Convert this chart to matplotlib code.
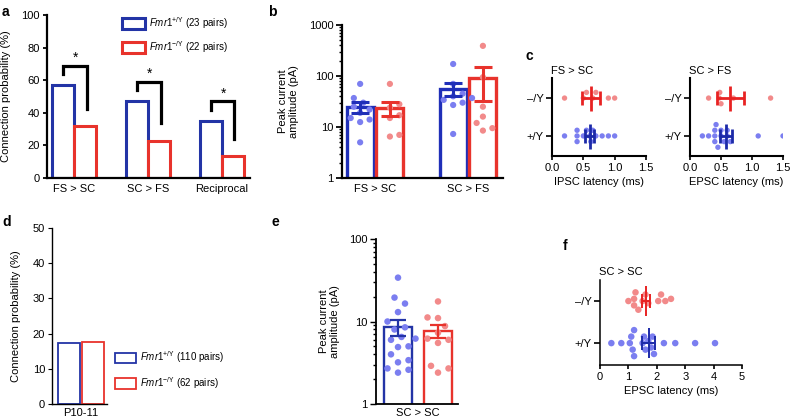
import numpy as np
import matplotlib
matplotlib.use('Agg')
import matplotlib.pyplot as plt
from matplotlib.patches import Patch
from matplotlib.ticker import LogLocator, NullFormatter

plt.rcParams['font.family'] = ['Liberation Sans', 'DejaVu Sans']
plt.rcParams['mathtext.fontset'] = 'custom'
plt.rcParams['mathtext.rm'] = 'Liberation Sans'
plt.rcParams['mathtext.it'] = 'Liberation Sans:italic'
plt.rcParams['mathtext.bf'] = 'Liberation Sans:bold'
plt.rcParams['font.size'] = 8

# ---------------- data ----------------
a_categories = ['FS > SC', 'SC > FS', 'Reciprocal']
a_wt = [57, 47, 35]
a_ko = [32, 23, 13.5]
a_labels = [r'$\mathit{Fmr1}^{+/\mathrm{Y}}$ (23 pairs)', r'$\mathit{Fmr1}^{-/\mathrm{Y}}$ (22 pairs)']

b_categories = ['FS > SC', 'SC > FS']
b_wt_mean = [25, 56]
b_wt_sem = [6, 16]
b_ko_mean = [24, 91]
b_ko_sem = [7.5, 58]
b_wt_pts = [[70, 37, 30, 25, 22, 19, 15, 14, 12.5, 5],
            [172, 70, 45, 40, 37, 34, 30, 27, 7.3]]
b_ko_pts = [[70, 28, 24, 17, 15, 7, 6.5],
            [390, 95, 25, 16, 12, 9.5, 8.5]]

c_genotypes = ['+/Y', '\u2013/Y']
c_fs_sc_wt = [0.2, 0.4, 0.4, 0.4, 0.5, 0.55, 0.6, 0.62, 0.65, 0.7, 0.8, 0.9, 1.0]
c_fs_sc_ko = [0.2, 0.5, 0.55, 0.65, 0.7, 0.9, 1.0]
c_fs_sc_mean = [0.6, 0.62]
c_fs_sc_sem = [0.07, 0.14]
c_sc_fs_wt = [0.2, 0.3, 0.4, 0.4, 0.4, 0.42, 0.45, 0.5, 0.5, 0.55, 0.6, 0.6, 0.65, 1.1, 1.5]
c_sc_fs_ko = [0.3, 0.47, 0.48, 0.5, 0.7, 1.3]
c_sc_fs_mean = [0.58, 0.65]
c_sc_fs_sem = [0.09, 0.22]

d_category = ['P10-11']
d_wt = [17.3]
d_ko = [17.7]
d_labels = [r'$\mathit{Fmr1}^{+/\mathrm{Y}}$ (110 pairs)', r'$\mathit{Fmr1}^{-/\mathrm{Y}}$ (62 pairs)']

e_category = ['SC > SC']
e_wt_mean, e_wt_sem = 8.6, 1.9
e_ko_mean, e_ko_sem = 7.7, 1.4
e_wt_pts = [34, 19.5, 16.5, 13, 10, 8.5, 8, 6.5, 6.2, 6, 5, 4.9, 4, 3.4, 3.2, 2.7, 2.6, 2.4]
e_ko_pts = [17.5, 11, 11.2, 8.8, 7.3, 6.2, 6, 5.5, 2.9, 2.7, 2.4]

f_wt = [0.4, 0.75, 1.05, 1.1, 1.15, 1.2, 1.2, 1.5, 1.55, 1.6, 1.7, 1.8, 1.85, 1.9, 2.25, 2.65, 3.35, 4.05]
f_ko = [1.0, 1.2, 1.2, 1.25, 1.35, 1.5, 1.6, 1.7, 2.05, 2.15, 2.3, 2.5]
f_mean = [1.72, 1.62]
f_sem = [0.23, 0.15]

# ---------------- style ----------------
BLUE = '#2334a6'
RED = '#e8332c'
LBLUE = '#7b7ef0'
LRED = '#f28a8a'
EBLUE = '#1c2aa8'
EBLUE2 = '#1f2fb8'
ERED = '#e82222'

W, H = 792, 420
fig = plt.figure(figsize=(W / 100, H / 100), dpi=100)


def ax_px(l, t, r, b):
    return fig.add_axes([l / W, 1 - b / H, (r - l) / W, (b - t) / H])


def clean(ax, lw=1.4):
    for s in ['top', 'right']:
        ax.spines[s].set_visible(False)
    for s in ['left', 'bottom']:
        ax.spines[s].set_linewidth(lw)
    ax.tick_params(width=lw * 0.8, length=3, labelsize=8, pad=2)


def swarm(ax, center, values, diam, orient='v'):
    """Return data coordinates of swarm-placed points (offset axis in pixels)."""
    T = ax.transData
    if orient == 'v':
        pix = [T.transform((center, v)) for v in values]
        vals = [p[1] for p in pix]
        c0 = pix[0][0]
    else:
        pix = [T.transform((v, center)) for v in values]
        vals = [p[0] for p in pix]
        c0 = pix[0][1]
    order = np.argsort(vals)
    placed = []
    offs = np.zeros(len(values))
    cands = [0.0]
    for k in range(1, 40):
        cands += [k * diam * 0.35, -k * diam * 0.35]
    for i in order:
        p = vals[i]
        for c in cands:
            if all((p - q) ** 2 + (c - o) ** 2 >= (diam * 0.95) ** 2 for q, o in placed):
                break
        placed.append((p, c))
        offs[i] = c
    inv = T.inverted()
    out = []
    for v, o in zip(vals, offs):
        if orient == 'v':
            out.append(inv.transform((c0 + o, v)))
        else:
            out.append(inv.transform((v, c0 + o)))
    out = np.array(out)
    return out[:, 0], out[:, 1]


# ================= panel a =================
ax = ax_px(47, 15, 250, 178)
clean(ax, 1.6)
xa = np.arange(len(a_categories))
bw = 0.3
ax.bar(xa - 0.15, a_wt, bw, facecolor='white', edgecolor=BLUE, linewidth=2.2, zorder=2)
ax.bar(xa + 0.15, a_ko, bw, facecolor='white', edgecolor=RED, linewidth=2.2, zorder=2)
for i in range(len(a_categories)):
    top = a_wt[i] + 12
    ax.plot([xa[i] - 0.15, xa[i] - 0.15, xa[i] + 0.17, xa[i] + 0.17],
            [top - 5, top, top, a_ko[i] + 10.5], color='black', lw=2.3,
            solid_joinstyle='miter', zorder=3)
    ax.text(xa[i] + 0.02, top + 0.5, '*', ha='center', va='bottom', fontsize=10)
ax.set_xlim(-0.365, 2.38)
ax.set_ylim(0, 100)
ax.set_yticks([0, 20, 40, 60, 80, 100])
ax.set_xticks(xa, a_categories)
ax.tick_params(axis='x', length=0, pad=4)
ax.set_ylabel('Connection probability (%)', fontsize=8)
ax.yaxis.set_label_coords(-0.175, 0.5)
handles = [Patch(facecolor='white', edgecolor=BLUE, linewidth=2.2),
           Patch(facecolor='white', edgecolor=RED, linewidth=2.2)]
ax.legend(handles, a_labels, loc='upper left', bbox_to_anchor=(0.37, 1.0),
          frameon=False, fontsize=7, handlelength=2.4, handleheight=1.3,
          labelspacing=0.85, handletextpad=0.35, borderpad=0, borderaxespad=0)
fig.text(2 / W, 1 - 12 / H, 'a', fontsize=10, fontweight='bold', va='center')

# ================= panel b =================
ax = ax_px(342, 25, 503, 178)
clean(ax, 1.6)
ax.set_yscale('log', nonpositive='clip')
ax.set_ylim(1, 1000)
ax.set_xlim(-0.355, 1.376)
xb = np.arange(len(b_categories))
bw = 0.29
off = 0.16
ax.bar(xb - off, b_wt_mean, bw, facecolor='white', edgecolor=EBLUE2, linewidth=2.4, zorder=1)
ax.bar(xb + off, b_ko_mean, bw, facecolor='white', edgecolor=RED, linewidth=2.4, zorder=1)
for i in range(len(b_categories)):
    px, py = swarm(ax, xb[i] - off, b_wt_pts[i], 9, 'v')
    ax.scatter(px, py, s=20, color=LBLUE, edgecolors='none', zorder=2)
    px, py = swarm(ax, xb[i] + off, b_ko_pts[i], 9, 'v')
    ax.scatter(px, py, s=20, color=LRED, edgecolors='none', zorder=2)
ax.errorbar(xb - off, b_wt_mean, yerr=b_wt_sem, fmt='none', ecolor=EBLUE2,
            elinewidth=2.2, capsize=6.5, capthick=2.2, zorder=3)
ax.errorbar(xb + off, b_ko_mean, yerr=b_ko_sem, fmt='none', ecolor=RED,
            elinewidth=2.2, capsize=6.5, capthick=2.2, zorder=3)
ax.set_yticks([1, 10, 100, 1000], ['1', '10', '100', '1000'])
ax.yaxis.set_minor_locator(LogLocator(base=10, subs=np.arange(2, 10)))
ax.yaxis.set_minor_formatter(NullFormatter())
ax.tick_params(axis='y', which='major', length=4)
ax.tick_params(axis='y', which='minor', length=2.5, width=1)
ax.set_xticks(xb, b_categories)
ax.tick_params(axis='x', length=0, pad=4)
ax.set_ylabel('Peak current\namplitude (pA)', fontsize=8, linespacing=1.1)
ax.yaxis.set_label_coords(-0.27, 0.5)
fig.text(268 / W, 1 - 12 / H, 'b', fontsize=10, fontweight='bold', va='center')


# ================= panel c =================
def latency_panel(ax, wt, ko, means, sems, title, xlabel, xmax, xticks, xticklabels,
                  diam, ms_mean, capsz, lw, s):
    clean(ax, 1.5)
    ax.set_xlim(0, xmax)
    ax.set_xticks(xticks, xticklabels)
    ax.set_yticks([0, 1], c_genotypes)
    ax.tick_params(axis='y', length=4, pad=2)
    ax.tick_params(axis='x', length=3)
    for k, (pts, col, ecol) in enumerate([(wt, LBLUE, EBLUE), (ko, LRED, ERED)]):
        px, py = swarm(ax, k, pts, diam, 'h')
        ax.scatter(px, py, s=s, color=col, edgecolors='none', zorder=2)
        ax.errorbar(means[k], k, xerr=sems[k], fmt='none', ecolor=ecol,
                    elinewidth=lw, capsize=capsz, capthick=lw, zorder=3)
        ax.plot(means[k], k, marker='|', ms=ms_mean, mew=lw, color=ecol, zorder=3)
    ax.set_xlabel(xlabel, fontsize=8, labelpad=3)
    ax.text(-0.01, 1.03, title, transform=ax.transAxes, ha='left', va='bottom', fontsize=8)


ax = ax_px(552, 78, 646, 156)
ax.set_ylim(-0.53, 1.53)
latency_panel(ax, c_fs_sc_wt, c_fs_sc_ko, c_fs_sc_mean, c_fs_sc_sem, 'FS > SC',
              'IPSC latency (ms)', 1.5, [0, 0.5, 1.0, 1.5], ['0.0', '0.5', '1.0', '1.5'],
              5.4, 18, 4.7, 2.0, 15)
ax = ax_px(690, 78, 783, 156)
ax.set_ylim(-0.53, 1.53)
latency_panel(ax, c_sc_fs_wt, c_sc_fs_ko, c_sc_fs_mean, c_sc_fs_sem, 'SC > FS',
              'EPSC latency (ms)', 1.5, [0, 0.5, 1.0, 1.5], ['0.0', '0.5', '1.0', '1.5'],
              5.4, 18, 4.7, 2.0, 15)
fig.text(525 / W, 1 - 56 / H, 'c', fontsize=10, fontweight='bold', va='center')

# ================= panel d =================
ax = ax_px(52, 228, 107, 404)
clean(ax, 1.0)
ax.set_xlim(-1.3, 1.2)
ax.set_ylim(0, 50)
ax.bar([-0.55], d_wt, 1.0, facecolor='white', edgecolor=BLUE, linewidth=1.3)
ax.bar([0.57], d_ko, 1.0, facecolor='white', edgecolor=RED, linewidth=1.3)
ax.set_yticks([0, 10, 20, 30, 40, 50])
ax.set_xticks([0], d_category)
ax.tick_params(axis='x', length=0, pad=3)
ax.set_ylabel('Connection probability (%)', fontsize=8)
ax.yaxis.set_label_coords(-0.56, 0.5)
handles = [Patch(facecolor='white', edgecolor=BLUE, linewidth=1.3),
           Patch(facecolor='white', edgecolor=RED, linewidth=1.3)]
ax.legend(handles, d_labels, loc='upper left', bbox_to_anchor=(1.145, 0.31),
          frameon=False, fontsize=7, handlelength=2.2, handleheight=1.35,
          labelspacing=1.0, handletextpad=0.4, borderpad=0, borderaxespad=0)
fig.text(2 / W, 1 - 222 / H, 'd', fontsize=10, fontweight='bold', va='center')

# ================= panel e =================
ax = ax_px(376, 239, 458, 404)
clean(ax, 1.3)
ax.set_yscale('log', nonpositive='clip')
ax.set_ylim(1, 100)
ax.set_xlim(-1.05, 1.0)
ax.bar([-0.5], [e_wt_mean], 0.7, facecolor='white', edgecolor=BLUE, linewidth=1.7, zorder=1)
ax.bar([0.5], [e_ko_mean], 0.7, facecolor='white', edgecolor=RED, linewidth=1.7, zorder=1)
px, py = swarm(ax, -0.5, e_wt_pts, 10, 'v')
ax.scatter(px, py, s=22, color=LBLUE, edgecolors='none', zorder=2)
px, py = swarm(ax, 0.5, e_ko_pts, 10, 'v')
ax.scatter(px, py, s=22, color=LRED, edgecolors='none', zorder=2)
ax.errorbar([-0.5], [e_wt_mean], yerr=[e_wt_sem], fmt='none', ecolor=BLUE,
            elinewidth=1.6, capsize=6, capthick=1.6, zorder=3)
ax.errorbar([0.5], [e_ko_mean], yerr=[e_ko_sem], fmt='none', ecolor=RED,
            elinewidth=1.6, capsize=6, capthick=1.6, zorder=3)
ax.set_yticks([1, 10, 100], ['1', '10', '100'])
ax.yaxis.set_minor_locator(LogLocator(base=10, subs=np.arange(2, 10)))
ax.yaxis.set_minor_formatter(NullFormatter())
ax.tick_params(axis='y', which='major', length=4)
ax.tick_params(axis='y', which='minor', length=2.5, width=1)
ax.set_xticks([0], e_category)
ax.tick_params(axis='x', length=0, pad=3)
ax.set_ylabel('Peak current\namplitude (pA)', fontsize=8, linespacing=1.1)
ax.yaxis.set_label_coords(-0.44, 0.5)
fig.text(272 / W, 1 - 222 / H, 'e', fontsize=10, fontweight='bold', va='center')

# ================= panel f =================
ax = ax_px(600, 280, 742, 365)
ax.set_ylim(-0.52, 1.5)
latency_panel(ax, f_wt, f_ko, f_mean, f_sem, 'SC > SC', 'EPSC latency (ms)', 5,
              [0, 1, 2, 3, 4, 5], ['0', '1', '2', '3', '4', '5'],
              6.2, 22, 5, 1.4, 22)
for s in ['left', 'bottom']:
    ax.spines[s].set_linewidth(1.1)
fig.text(563 / W, 1 - 246 / H, 'f', fontsize=10, fontweight='bold', va='center')

fig.savefig('out.png', dpi=100)
